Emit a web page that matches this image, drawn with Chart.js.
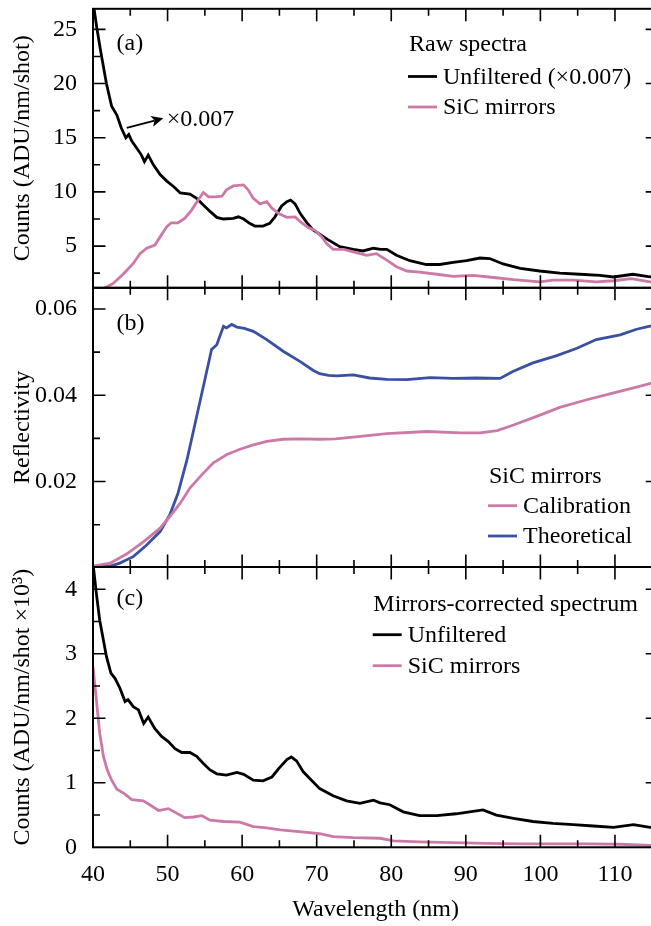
<!DOCTYPE html>
<html>
<head>
<meta charset="utf-8">
<script src="https://cdn.jsdelivr.net/npm/chart.js@4.4.0/dist/chart.umd.min.js"></script>
<style>
  html, body { margin: 0; padding: 0; background: #fff; overflow: hidden; }
  #wrap { position: relative; width: 651px; height: 926px; overflow: hidden; }
  #wrap canvas { position: absolute; left: 0; top: 0; }
</style>
</head>
<body>
<div id="wrap">
  <canvas id="panelA" width="666" height="926"></canvas>
  <canvas id="panelB" width="666" height="926"></canvas>
  <canvas id="panelC" width="666" height="926"></canvas>
</div>
<script>
// wavelength axis (nm), shared by the three panels
const xTickLabels = [40, 50, 60, 70, 80, 90, 100, 110];
const xMinorTicks = [45, 55, 65, 75, 85, 95, 105, 115];

// (a) raw spectra, ADU/nm/shot
const rawTicks = [5, 10, 15, 20, 25];
const rawMinor = [2.5, 7.5, 12.5, 17.5, 22.5];
// unfiltered is already multiplied by 0.007
const rawUnfiltered = [
  [40, 27.6], [40.5, 25.2], [41, 23.1], [41.8, 20.0], [42.5, 17.9], [43.2, 17.1], [43.8, 15.9],
  [44.4, 15.0], [44.8, 15.3], [45.2, 14.7], [45.9, 14.0], [46.5, 13.4], [46.9, 12.8], [47.4, 13.4],
  [48.1, 12.5], [49, 11.6], [49.9, 11.0], [50.8, 10.5], [51.7, 9.9], [53, 9.8], [53.9, 9.4],
  [54.8, 8.8], [55.7, 8.2], [56.6, 7.65], [57.5, 7.5], [58.8, 7.55], [59.5, 7.7], [60.2, 7.5],
  [61, 7.1], [61.7, 6.85], [62.8, 6.85], [63.7, 7.1], [64.4, 7.7], [65.3, 8.7], [66, 9.1],
  [66.5, 9.25], [67.1, 8.9], [67.8, 8.0], [68.7, 7.15], [69.5, 6.5], [70.4, 6.1], [71.5, 5.6],
  [73.1, 4.95], [74.9, 4.7], [76.2, 4.55], [77.6, 4.8], [78.6, 4.7], [79.4, 4.7], [80.7, 4.15],
  [82.5, 3.65], [84.7, 3.3], [86.5, 3.3], [88.3, 3.5], [90.1, 3.65], [91.9, 3.9], [93.2, 3.85],
  [95, 3.35], [97.3, 2.95], [99.9, 2.7], [102.6, 2.5], [105.3, 2.4], [108, 2.3], [109.8, 2.15],
  [112.4, 2.4], [114.7, 2.15], [115.8, 2.2]
];
const rawSic = [
  [41.5, 1.1], [42.7, 1.55], [44.1, 2.45], [45.4, 3.4], [46.3, 4.3], [47.2, 4.8], [48.3, 5.1],
  [49, 5.85], [49.9, 6.8], [50.5, 7.15], [51.4, 7.15], [52.3, 7.55], [53.2, 8.3], [54.1, 9.25],
  [54.8, 9.95], [55.5, 9.55], [56.4, 9.55], [57.3, 9.6], [57.9, 10.2], [58.8, 10.55], [60.2, 10.65],
  [60.8, 10.2], [61.5, 9.4], [62.4, 8.9], [63.3, 9.1], [64, 8.5], [64.9, 8.0], [66, 7.65],
  [67.1, 7.7], [68, 7.15], [68.9, 6.7], [69.8, 6.45], [70.7, 5.85], [71.3, 5.25], [72.2, 4.7],
  [73.6, 4.7], [75.3, 4.4], [76.7, 4.15], [78, 4.3], [79.4, 3.7], [80.7, 3.1], [82.1, 2.7],
  [83.8, 2.6], [86.1, 2.4], [88.3, 2.2], [91, 2.3], [93.7, 2.1], [96.4, 1.9], [99.9, 1.7],
  [101.7, 1.85], [104.4, 1.85], [107.5, 1.7], [109.8, 1.8], [112.2, 2.0], [114.7, 1.7], [115.8, 1.7]
];

// (b) SiC mirror reflectivity
const reflTicks = [0.02, 0.04, 0.06];
const reflTickLabels = ['0.02', '0.04', '0.06'];
const reflMinor = [0.01, 0.03, 0.05];
const reflCalibration = [
  [40, 0.0004], [42.3, 0.0011], [44.5, 0.0032], [46.8, 0.0061], [49, 0.0092], [50.3, 0.0119],
  [51.7, 0.015], [53, 0.0185], [54.4, 0.0212], [56.1, 0.0243], [57.9, 0.0262], [59.7, 0.0275],
  [61.5, 0.0285], [63.3, 0.0293], [65.5, 0.0298], [67.8, 0.0299], [70.4, 0.0298], [72.5, 0.0299],
  [74.9, 0.0303], [79.4, 0.0311], [84.8, 0.0316], [89.3, 0.0313], [91.9, 0.0313], [94.2, 0.0318],
  [96.4, 0.0331], [99.5, 0.0351], [102.6, 0.0372], [106.1, 0.0389], [109.7, 0.0405],
  [112.9, 0.0419], [115.8, 0.0432]
];
const reflTheoretical = [
  [40, 0.0004], [42.3, 0.0004], [43.6, 0.0011], [45.4, 0.0026], [47.2, 0.0053], [49, 0.0084],
  [50.3, 0.0123], [51.4, 0.0173], [52.6, 0.025], [53.7, 0.0335], [55, 0.0436], [55.9, 0.0506],
  [56.6, 0.0517], [57.5, 0.056], [57.9, 0.0556], [58.6, 0.0564], [59.3, 0.0558], [60.3, 0.0555],
  [61.5, 0.0548], [63.3, 0.0529], [65.5, 0.0502], [67.8, 0.0478], [69.5, 0.0458], [70.4, 0.045],
  [71.6, 0.0446], [72.7, 0.0445], [74.9, 0.0447], [77.1, 0.044], [79.4, 0.0437], [82.1, 0.0436],
  [85.2, 0.0441], [88.3, 0.0439], [91.4, 0.044], [94.6, 0.0439], [96.3, 0.0455], [99, 0.0475],
  [102.2, 0.0492], [104.9, 0.0509], [107.5, 0.0529], [110.7, 0.054], [112.9, 0.0553],
  [114.7, 0.056], [115.8, 0.0565]
];

// (c) mirrors-corrected spectrum, ADU/nm/shot x 10^3
const corrTicks = [0, 1, 2, 3, 4];
const corrMinor = [0.5, 1.5, 2.5, 3.5];
const corrUnfiltered = [
  [40, 4.4], [40.5, 3.89], [40.9, 3.52], [41.4, 3.21], [41.8, 2.96], [42.4, 2.7], [42.95, 2.62],
  [43.6, 2.47], [44.3, 2.26], [44.7, 2.29], [45.4, 2.18], [46.1, 2.13], [46.8, 1.92], [47.4, 2.02],
  [48.3, 1.84], [49.2, 1.72], [50.1, 1.64], [51, 1.53], [51.9, 1.47], [53, 1.47], [53.9, 1.41],
  [54.8, 1.3], [55.7, 1.2], [56.6, 1.14], [57.9, 1.12], [59.3, 1.16], [60.2, 1.13], [61.5, 1.04],
  [62.8, 1.03], [64, 1.09], [64.9, 1.22], [66, 1.36], [66.6, 1.4], [67.3, 1.34], [68.2, 1.17],
  [69.3, 1.04], [70.4, 0.91], [72.2, 0.8], [74, 0.72], [75.8, 0.68], [77.6, 0.73], [78.5, 0.69],
  [79.8, 0.66], [81.6, 0.55], [83.8, 0.49], [86.1, 0.49], [88.7, 0.52], [90.5, 0.55], [92.3, 0.58],
  [94.1, 0.5], [96.4, 0.45], [99, 0.4], [101.7, 0.37], [104.4, 0.35], [107.1, 0.33], [109.8, 0.31],
  [112.5, 0.35], [114.7, 0.31], [115.8, 0.31]
];
const corrSic = [
  [40, 2.8], [40.5, 2.23], [40.9, 1.77], [41.4, 1.41], [41.9, 1.2], [42.5, 1.04], [43.2, 0.9],
  [44.1, 0.84], [45.2, 0.74], [46.75, 0.72], [47.6, 0.66], [48.8, 0.57], [50.1, 0.6], [51.2, 0.53],
  [52.3, 0.46], [53.5, 0.47], [54.6, 0.49], [55.7, 0.42], [57.5, 0.4], [59.7, 0.39], [61.5, 0.32],
  [63.3, 0.3], [65.1, 0.27], [66.9, 0.25], [68.7, 0.23], [70.4, 0.21], [72.2, 0.165], [74.9, 0.15],
  [78.5, 0.14], [80.3, 0.1], [83.8, 0.083], [88.3, 0.072], [92.8, 0.062], [97.3, 0.052],
  [101.7, 0.052], [106.2, 0.052], [110.7, 0.047], [114.7, 0.031], [115.8, 0.03]
];

const BLACK = '#000000';
const PINK = '#cc79a7';
const BLUE = '#3a50a2';
const FONT = { family: '"Liberation Serif", "Times New Roman", serif', size: 24 };
const FONT_CSS = '24px "Liberation Serif", "Times New Roman", serif';

const CANVAS_W = 666, CANVAS_H = 926;
const PLOT_LEFT = 93, PLOT_RIGHT = 658.2;
const X_MIN = 40, X_MAX = 115.8;

Chart.defaults.font.family = FONT.family;
Chart.defaults.font.size = FONT.size;
Chart.defaults.color = BLACK;

// box with inward ticks, panel tag, in-plot legend and the optional arrow note
const panelDecor = {
  id: 'panelDecor',
  afterDraw(chart) {
    const p = chart.config._panel;
    const { ctx, chartArea: a, scales: { x, y } } = chart;
    ctx.save();

    ctx.strokeStyle = BLACK;
    ctx.lineWidth = 1.6;
    const xMarks = (vals, len) => vals.forEach(v => {
      const px = x.getPixelForValue(v);
      if (px <= a.left + 1 || px >= a.right - 1) return;
      ctx.beginPath();
      ctx.moveTo(px, a.top); ctx.lineTo(px, a.top + len);
      ctx.moveTo(px, a.bottom); ctx.lineTo(px, a.bottom - len);
      ctx.stroke();
    });
    const yMarks = (vals, len) => vals.forEach(v => {
      const py = y.getPixelForValue(v);
      if (py <= a.top + 1 || py >= a.bottom - 1) return;
      ctx.beginPath();
      ctx.moveTo(a.left, py); ctx.lineTo(a.left + len, py);
      ctx.moveTo(a.right, py); ctx.lineTo(a.right - len, py);
      ctx.stroke();
    });
    xMarks(xTickLabels, 12.5);
    xMarks(xMinorTicks, 7);
    yMarks(p.ticks, 12.5);
    yMarks(p.minor, 7);
    ctx.lineWidth = 2;
    ctx.strokeRect(a.left, a.top, a.right - a.left, a.bottom - a.top);

    ctx.font = FONT_CSS;
    ctx.fillStyle = BLACK;
    ctx.textBaseline = 'alphabetic';
    ctx.textAlign = 'left';
    ctx.fillText(p.tag, 116.5, p.tagY);

    const lg = p.legend;
    ctx.fillText(lg.title, lg.x, lg.titleY);
    lg.rows.forEach(r => {
      ctx.strokeStyle = r.color;
      ctx.lineWidth = 2.8;
      ctx.beginPath();
      ctx.moveTo(lg.lineX, r.y - 7);
      ctx.lineTo(lg.lineX + 29, r.y - 7);
      ctx.stroke();
      ctx.fillText(r.label, lg.lineX + 35, r.y);
    });

    if (p.note) {
      const n = p.note;
      const x0 = x.getPixelForValue(n.from[0]), y0 = y.getPixelForValue(n.from[1]);
      const x1 = x.getPixelForValue(n.to[0]), y1 = y.getPixelForValue(n.to[1]);
      const ang = Math.atan2(y1 - y0, x1 - x0);
      const head = 12, half = 5.5;
      const bx = x1 - head * Math.cos(ang), by = y1 - head * Math.sin(ang);
      const nx = bx + 3 * Math.cos(ang), ny = by + 3 * Math.sin(ang);
      ctx.strokeStyle = BLACK;
      ctx.lineWidth = 1.8;
      ctx.beginPath();
      ctx.moveTo(x0, y0);
      ctx.lineTo(nx, ny);
      ctx.stroke();
      ctx.beginPath();
      ctx.moveTo(x1, y1);
      ctx.lineTo(bx - half * Math.sin(ang), by + half * Math.cos(ang));
      ctx.lineTo(nx, ny);
      ctx.lineTo(bx + half * Math.sin(ang), by - half * Math.cos(ang));
      ctx.closePath();
      ctx.fill();
      ctx.fillText(n.text, x1 + 3.5, y1 + 8);
    }
    ctx.restore();
  }
};

function makePanel(id, p) {
  const showX = !!p.showX;
  const chart = new Chart(document.getElementById(id), {
    type: 'line',
    data: {
      datasets: p.series.map(s => ({
        data: s.data, borderColor: s.color, borderWidth: 2.8,
        pointRadius: 0, tension: 0, fill: false
      }))
    },
    options: {
      responsive: false, animation: false, devicePixelRatio: 1, events: [],
      layout: {
        padding: {
          left: 0, right: CANVAS_W - PLOT_RIGHT, top: p.top,
          bottom: showX ? 0 : CANVAS_H - p.bottom
        }
      },
      scales: {
        x: {
          type: 'linear', min: X_MIN, max: X_MAX, display: showX,
          afterBuildTicks: s => { s.ticks = xTickLabels.map(v => ({ value: v })); },
          afterFit: s => { if (showX) s.height = CANVAS_H - p.bottom; },
          grid: { display: false, drawTicks: false },
          border: { display: false },
          ticks: { padding: 13, maxRotation: 0, autoSkip: false, color: BLACK, font: FONT },
          title: { display: true, text: 'Wavelength (nm)', color: BLACK, font: FONT, padding: { top: 0, bottom: 1.5 } }
        },
        y: {
          type: 'linear', min: p.yMin, max: p.yMax,
          afterBuildTicks: s => { s.ticks = p.ticks.map(v => ({ value: v })); },
          // fixed axis width; tick labels sit inside the panel height, so no extra edge room
          afterFit: s => { s.width = PLOT_LEFT; s.paddingTop = 0; s.paddingBottom = 0; },
          grid: { display: false, drawTicks: false },
          border: { display: false },
          ticks: { padding: 16, color: BLACK, font: FONT, callback: (v, i) => p.labels[i] },
          title: { display: true, text: p.yTitle, color: BLACK, font: FONT, padding: { top: 8.5, bottom: 0 } }
        }
      },
      plugins: { legend: { display: false }, tooltip: { enabled: false } }
    },
    plugins: [panelDecor]
  });
  return chart;
}

// panel settings are attached before the first draw
Chart.register({
  id: 'panelSetup',
  beforeInit(chart) { chart.config._panel = panels[chart.canvas.id]; }
});

const panels = {
  panelA: {
    top: 8.8, bottom: 287.8, yMin: 1.15, yMax: 26.9,
    ticks: rawTicks, labels: rawTicks.map(String), minor: rawMinor,
    yTitle: 'Counts (ADU/nm/shot)',
    series: [{ data: rawSic, color: PINK }, { data: rawUnfiltered, color: BLACK }],
    tag: '(a)', tagY: 50,
    legend: {
      title: 'Raw spectra', x: 409, titleY: 51, lineX: 408,
      rows: [{ label: 'Unfiltered (×0.007)', color: BLACK, y: 83.5 },
             { label: 'SiC mirrors', color: PINK, y: 114 }]
    },
    note: { from: [44.52, 15.92], to: [49.43, 16.79], text: '×0.007' }
  },
  panelB: {
    top: 287.8, bottom: 567, yMin: 0.0002, yMax: 0.0649,
    ticks: reflTicks, labels: reflTickLabels, minor: reflMinor,
    yTitle: 'Reflectivity',
    series: [{ data: reflCalibration, color: PINK }, { data: reflTheoretical, color: BLUE }],
    tag: '(b)', tagY: 330,
    legend: {
      title: 'SiC mirrors', x: 489, titleY: 482.5, lineX: 488,
      rows: [{ label: 'Calibration', color: PINK, y: 512.7 },
             { label: 'Theoretical', color: BLUE, y: 543 }]
    }
  },
  panelC: {
    top: 567, bottom: 847.3, yMin: 0, yMax: 4.346,
    ticks: corrTicks, labels: corrTicks.map(String), minor: corrMinor,
    yTitle: 'Counts (ADU/nm/shot ×10³)',
    showX: true,
    series: [{ data: corrSic, color: PINK }, { data: corrUnfiltered, color: BLACK }],
    tag: '(c)', tagY: 605,
    legend: {
      title: 'Mirrors-corrected spectrum', x: 373.3, titleY: 610.7, lineX: 372.7,
      rows: [{ label: 'Unfiltered', color: BLACK, y: 641.7 },
             { label: 'SiC mirrors', color: PINK, y: 672.7 }]
    }
  }
};

Object.keys(panels).forEach(id => makePanel(id, panels[id]));
</script>
</body>
</html>
